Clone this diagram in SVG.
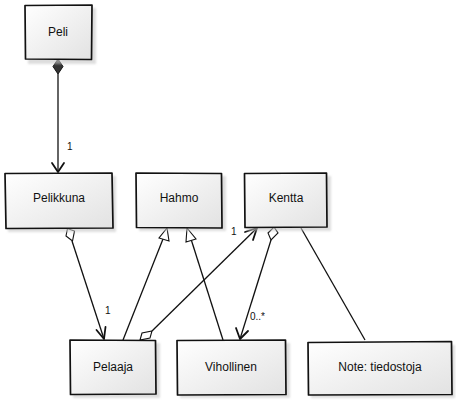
<svg xmlns="http://www.w3.org/2000/svg" width="456" height="400" viewBox="0 0 456 400">
<style>
.box{fill:url(#g);stroke:#111;stroke-width:1.7;stroke-linejoin:round}
.sh{fill:#c8c8c8;opacity:0.6}
.t{font-family:"Liberation Sans","DejaVu Sans",sans-serif;font-size:12px;fill:#111;text-anchor:middle}
.l{font-family:"Liberation Sans","DejaVu Sans",sans-serif;font-size:10px;fill:#111}
.c{fill:none;stroke:#111;stroke-width:1.3}
.arr{fill:none;stroke:#111;stroke-width:1.8;stroke-linecap:round;stroke-linejoin:round}
.od{fill:#fff;stroke:#111;stroke-width:1.1}
.tri{fill:#fff;stroke:#111;stroke-width:1.1}
</style>
<defs>
<linearGradient id="g" x1="0" y1="0" x2="1" y2="1">
<stop offset="0" stop-color="#ffffff"/>
<stop offset="1" stop-color="#e2e2e2"/>
</linearGradient>
<filter id="blur" x="-10%" y="-10%" width="130%" height="130%"><feGaussianBlur stdDeviation="1.2"/></filter>
</defs>
<g id="connectors">
<!-- Peli -> Pelikkuna composition -->
<path class="c" d="M58 74 L58 172"/>
<path d="M58 59 L63 66.5 L58 74 L53 66.5 Z" fill="#333" stroke="#111" stroke-width="1"/>
<path class="arr" d="M52 163 L58 172 L64 163"/>
<text class="l" x="67" y="150">1</text>
<!-- Pelikkuna -> Pelaaja aggregation -->
<path class="c" d="M72 241 L104 339"/>
<path class="od" d="M67.5 228.5 L74.5 231 L72.5 241 L66 236 Z"/>
<path class="arr" d="M96.5 330 L104 339 L105.5 327"/>
<text class="l" x="105" y="314">1</text>
<!-- Pelaaja -> Hahmo inheritance -->
<path class="c" d="M123 340 L163 239"/>
<path class="tri" d="M167 228 L169 241 L159 238 Z"/>
<!-- Vihollinen -> Hahmo inheritance -->
<path class="c" d="M223 340 L191 239"/>
<path class="tri" d="M187 228 L196 239 L186 242 Z"/>
<!-- Pelaaja -> Kentta aggregation -->
<path class="c" d="M152 331 L257 228"/>
<path class="od" d="M140 340 L142 333 L152 331 L150 338 Z"/>
<path class="arr" d="M245 232 L257 228 L253 240"/>
<text class="l" x="231" y="235">1</text>
<!-- Kentta -> Vihollinen aggregation -->
<path class="c" d="M271 240 L240 339"/>
<path class="od" d="M274 227 L278 233 L271 240 L268 233 Z"/>
<path class="arr" d="M236 328 L240 339 L248 331"/>
<text class="l" x="250" y="320">0..*</text>
<!-- Kentta - Note -->
<path class="c" d="M301 228 L365 340"/>
</g>
<g id="Peli">
<rect class="sh" x="28" y="8" width="68" height="56" filter="url(#blur)"/>
<path class="box" d="M25 5.5 L92 5 L91.5 59.5 L25.5 59 Z"/>
<text class="t" x="58" y="36">Peli</text>
</g>
<g id="Pelikkuna">
<rect class="sh" x="8" y="176" width="108" height="56" filter="url(#blur)"/>
<path class="box" d="M5 173.5 L112 173 L113 228 L6 228.5 Z"/>
<text class="t" x="59" y="202">Pelikkuna</text>
</g>
<g id="Hahmo">
<rect class="sh" x="139" y="176" width="87" height="55" filter="url(#blur)"/>
<path class="box" d="M136 173 L221.5 173.5 L222 228 L136.5 227.5 Z"/>
<text class="t" x="179" y="202">Hahmo</text>
</g>
<g id="Kentta">
<rect class="sh" x="247" y="176" width="84" height="55" filter="url(#blur)"/>
<path class="box" d="M244.5 173.5 L326.5 173 L327 227 L245 227.5 Z"/>
<text class="t" x="286" y="202">Kentta</text>
</g>
<g id="Pelaaja">
<rect class="sh" x="73" y="343" width="87" height="55" filter="url(#blur)"/>
<path class="box" d="M70 340 L155.5 340.5 L156 394 L70.5 394.5 Z"/>
<text class="t" x="113" y="371">Pelaaja</text>
</g>
<g id="Vihollinen">
<rect class="sh" x="180" y="343" width="110" height="55" filter="url(#blur)"/>
<path class="box" d="M177 340.5 L285.5 340 L286 394.5 L177.5 395 Z"/>
<text class="t" x="231" y="371">Vihollinen</text>
</g>
<g id="Note">
<rect class="sh" x="311" y="345" width="144" height="53" filter="url(#blur)"/>
<path class="box" d="M308 342.5 L451.5 341.5 L452 394.5 L308.5 395 Z"/>
<text class="t" x="380" y="371">Note: tiedostoja</text>
</g>
</svg>
